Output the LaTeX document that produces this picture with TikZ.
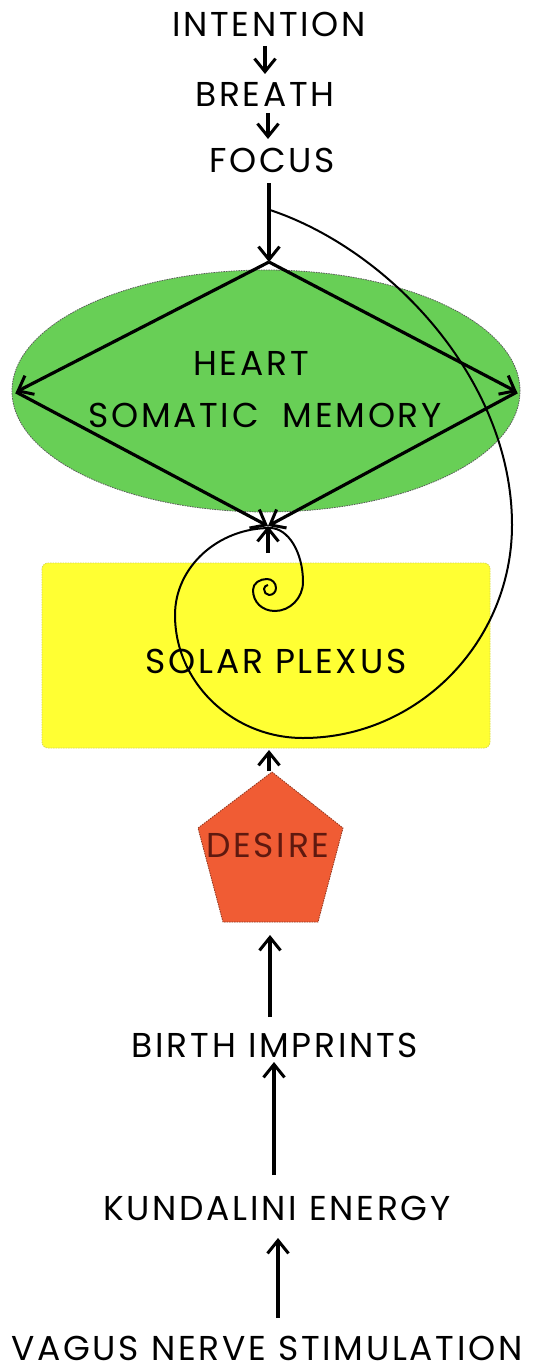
\documentclass[tikz,border=0pt]{standalone}
\usepackage{fontspec}
\setmainfont{Poppins}[LetterSpace=8]
\usetikzlibrary{arrows.meta}
\definecolor{heartgreen}{RGB}{104,207,86}
\definecolor{plexusyellow}{RGB}{255,255,51}
\definecolor{desireorange}{RGB}{240,92,52}
\definecolor{desiretext}{RGB}{95,25,15}
\definecolor{edgegray}{RGB}{90,90,90}
\tikzset{
  lbl/.style={font=\fontsize{34.5}{40}\selectfont, inner sep=0pt, anchor=base, text=black},
  flow/.style={line width=3.2pt, -{Straight Barb[length=13pt,width=21pt,line width=3pt]}},
  spiralline/.style={line width=2pt, line join=round},
  zone/.style={draw=edgegray, line width=0.8pt, dash pattern=on 1.5pt off 1pt}
}
\begin{document}
\begin{tikzpicture}[x=1pt,y=-1pt]
\useasboundingbox (0,0) rectangle (534,1370);
\fill[white] (0,0) rectangle (534,1370);
% shapes
\path[zone, fill=heartgreen] (266,391) ellipse [x radius=254pt, y radius=121pt];
\path[zone, fill=plexusyellow, draw=plexusyellow!70!gray, rounded corners=6pt] (42,563) rectangle (490,748);
\path[zone, fill=desireorange, draw=desireorange!60!black] (272,772) -- (343,828) -- (318,922) -- (223,922) -- (198,828) -- cycle;
% texts
\node[lbl] (intention) at (269,37) {INTENTION};
\node[lbl] (breath) at (265,107) {BREATH};
\node[lbl] (focus) at (272,172) {FOCUS};
\node[lbl] (heart) at (251,375) {HEART};
\node[lbl] (somatic) at (265,427) {SOMATIC\ \ MEMORY};
\node[lbl] (plexus) at (276,673) {SOLAR PLEXUS};
\node[lbl, text=desiretext] (desire) at (268,857) {DESIRE};
\node[lbl] (birth) at (275,1057) {BIRTH IMPRINTS};
\node[lbl] (kundalini) at (277,1220) {KUNDALINI ENERGY};
\node[lbl] (vagus) at (267,1360) {VAGUS NERVE STIMULATION};
% connector ends
\coordinate (i1) at (265,46);
\coordinate (b0) at (265,74);
\coordinate (b1) at (268,113);
\coordinate (f0) at (268,139);
\coordinate (f1) at (269,183);
\coordinate (dtop) at (269,262);
\coordinate (dleft) at (16,392);
\coordinate (dright) at (517,392);
\coordinate (dbot) at (268,526);
\coordinate (pc) at (268,553);
\coordinate (sbot) at (269,750);
\coordinate (ptop) at (269,771);
\coordinate (pbot) at (270,935);
\coordinate (bi1) at (270,1017);
\coordinate (bi0) at (274,1062);
\coordinate (k1) at (274,1175);
\coordinate (k0) at (278,1238);
\coordinate (v1) at (278,1318);
\coordinate (sp) at (270,210);
% spiral
\draw[spiralline] (sp) .. controls (390,250) and (512,380) .. (512,525)
 .. controls (512,642) and (418,738) .. (303,738)
 .. controls (233,738) and (175,683) .. (175,615)
 .. controls (175,567) and (218,528) .. (270,528)
 .. controls (288,528) and (303,552) .. (303,582)
 .. controls (303,598) and (290,611) .. (275,611)
 .. controls (262,611) and (253,602) .. (253,590)
 .. controls (253,583) and (260,579) .. (267,579)
 .. controls (272,579) and (276,583) .. (276,588)
 .. controls (276,592) and (273,595) .. (269,595)
 .. controls (266,595) and (264,592) .. (264,589)
 .. controls (264,587) and (266,585) .. (268,585);
% arrows
\draw[flow] (i1) -- (b0);
\draw[flow] (b1) -- (f0);
\draw[flow] (f1) -- (dtop);
\draw[flow] (dtop) -- (dleft);
\draw[flow] (dtop) -- (dright);
\draw[flow] (dleft) -- (dbot);
\draw[flow] (dright) -- (dbot);
\draw[flow] (pc) -- (dbot);
\draw[flow] (ptop) -- (sbot);
\draw[flow] (bi1) -- (pbot);
\draw[flow] (k1) -- (bi0);
\draw[flow] (v1) -- (k0);
\end{tikzpicture}
\end{document}
